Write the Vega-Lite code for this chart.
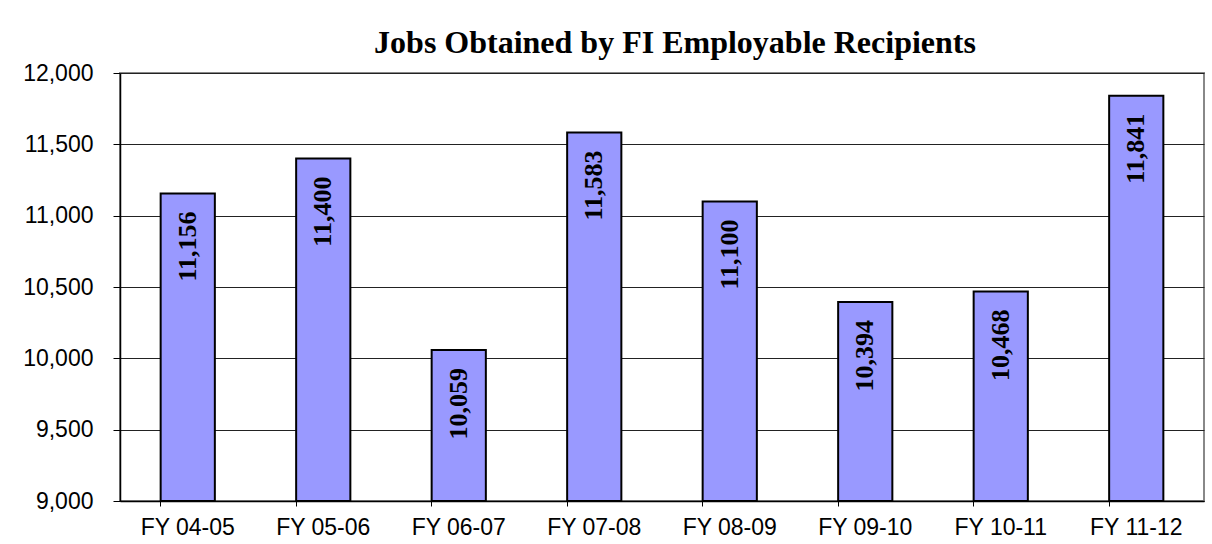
{
  "$schema": "https://vega.github.io/schema/vega-lite/v6.json",
  "width": 1084,
  "height": 428,
  "autosize": "none",
  "padding": {"left": 120, "top": 73, "right": 8, "bottom": 43},
  "background": "white",
  "title": {
    "text": "Jobs Obtained by FI Employable Recipients",
    "font": "Liberation Serif",
    "fontSize": 32,
    "fontWeight": "bold",
    "color": "black",
    "anchor": "middle",
    "baseline": "alphabetic",
    "offset": -23,
    "dx": 13
  },
  "data": {
    "values": [
      {"year": "FY 04-05", "jobs": 11156},
      {"year": "FY 05-06", "jobs": 11400},
      {"year": "FY 06-07", "jobs": 10059},
      {"year": "FY 07-08", "jobs": 11583},
      {"year": "FY 08-09", "jobs": 11100},
      {"year": "FY 09-10", "jobs": 10394},
      {"year": "FY 10-11", "jobs": 10468},
      {"year": "FY 11-12", "jobs": 11841}
    ]
  },
  "encoding": {
    "x": {
      "field": "year",
      "type": "nominal",
      "sort": null,
      "title": null,
      "scale": {"paddingInner": 0.6, "paddingOuter": 0.3},
      "axis": {
        "labelAngle": 0,
        "labelFont": "Liberation Sans",
        "labelFontSize": 23,
        "labelColor": "black",
        "labelPadding": 10,
        "tickSize": 5,
        "tickColor": "black",
        "tickWidth": 1,
        "bandPosition": 0,
        "domainColor": "black",
        "domainWidth": 1.5,
        "grid": false
      }
    },
    "y": {
      "field": "jobs",
      "type": "quantitative",
      "title": null,
      "scale": {"domain": [9000, 12000], "zero": false, "nice": false},
      "axis": {
        "values": [9000, 9500, 10000, 10500, 11000, 11500, 12000],
        "format": ",d",
        "labelFont": "Liberation Sans",
        "labelFontSize": 23,
        "labelColor": "black",
        "labelPadding": 20,
        "tickSize": 7,
        "tickColor": "black",
        "domainColor": "black",
        "domainWidth": 1.5,
        "grid": true,
        "gridColor": "#222222",
        "gridWidth": 1,
        "gridOpacity": 1
      }
    }
  },
  "layer": [
    {
      "mark": {"type": "bar", "fill": "#9999FF", "stroke": "black", "strokeWidth": 2, "clip": true},
      "encoding": {
        "y2": {"datum": 9000}
      }
    },
    {
      "mark": {
        "type": "text",
        "angle": 270,
        "align": "right",
        "baseline": "middle",
        "dx": -18,
        "font": "Liberation Serif",
        "fontSize": 26,
        "fontWeight": "bold",
        "color": "black"
      },
      "encoding": {
        "text": {"field": "jobs", "type": "quantitative", "format": ","}
      }
    }
  ],
  "config": {
    "view": {"stroke": "#888888", "strokeWidth": 2}
  }
}
